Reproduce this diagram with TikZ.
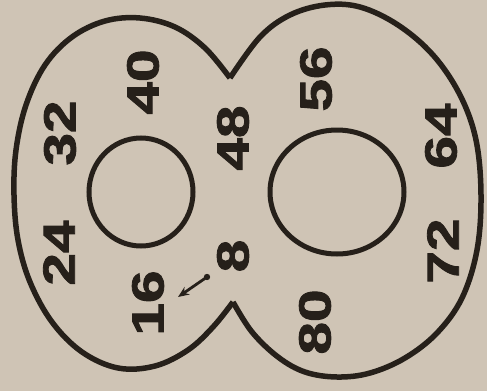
\documentclass[tikz,border=0pt]{standalone}
\usepackage{fontspec}
\newfontface\numfamily{Liberation Sans Bold}[FakeBold=1.8]
\usetikzlibrary{arrows.meta}
\definecolor{paper}{RGB}{207,196,181}
\definecolor{ink}{RGB}{38,32,26}
\tikzset{
  num/.style={rotate=90, inner sep=0pt, text=ink,
    font=\numfamily\fontsize{45}{50}\selectfont},
  outline/.style={draw=ink, line width=5.5pt, line join=round},
  hole/.style={draw=ink, line width=5pt},
}
\newcommand{\stretchnum}[1]{\scalebox{1.3}[1]{#1}}
\begin{document}
\begin{tikzpicture}[x=1pt, y=-1pt]
\fill[paper] (0,0) rectangle (487,391);
\useasboundingbox (0,0) rectangle (487,391);
% outline of the figure eight
\draw[outline] plot[smooth, tension=0.6] coordinates {
  (230,78) (205,48) (175,27) (140,18) (105,21) (72,37) (45,65) (26,105)
  (16,150) (14,195) (18,240) (30,282) (52,322) (82,352) (118,368)
  (155,366) (188,350) (213,327) (233,302)};
\draw[outline] plot[smooth, tension=0.6] coordinates {
  (233,302) (252,332) (278,357) (305,372) (337,377) (370,373) (405,358)
  (437,333) (462,298) (477,250) (481,195) (476,140) (460,95) (433,55)
  (398,25) (360,7) (325,5) (290,15) (260,37) (230,78)};
% inner holes
\draw[hole] (141,192) ellipse [x radius=52, y radius=54];
\draw[hole] (337,192) ellipse [x radius=67, y radius=62];
% numbers
\node[num] (n8)  at (233,256) {\stretchnum{8}};
\node[num] (n16) at (148,303) {\stretchnum{16}};
\node[num] (n24) at (59,253) {\stretchnum{24}};
\node[num] (n32) at (60,133) {\stretchnum{32}};
\node[num] (n40) at (143,82) {\stretchnum{40}};
\node[num] (n48) at (233,138) {\stretchnum{48}};
\node[num] (n56) at (316,79) {\stretchnum{56}};
\node[num] (n64) at (441,136) {\stretchnum{64}};
\node[num] (n72) at (443,251) {\stretchnum{72}};
\node[num] (n80) at (315,322) {\stretchnum{80}};
% arrow
\coordinate (atail) at (207,277);
\coordinate (ahead) at (178,297);
\fill[ink] (atail) circle (3.2);
\draw[ink, line width=2.8pt, -{Stealth[length=11pt, width=9pt]}] (atail) -- (ahead);
\end{tikzpicture}
\end{document}
